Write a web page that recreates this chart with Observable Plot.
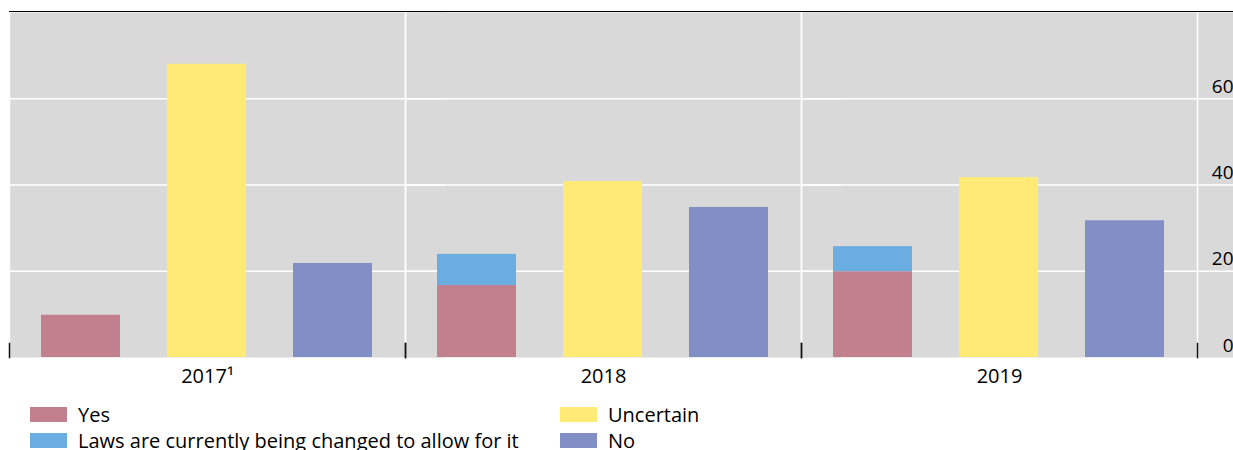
<!DOCTYPE html>
<html>
<head>
<meta charset="utf-8">
<script src="https://cdn.jsdelivr.net/npm/d3@7"></script>
<script src="https://cdn.jsdelivr.net/npm/@observablehq/plot@0.6"></script>
<style>
  body { margin: 0; background: #fff; font-family: "Open Sans", sans-serif; }
  #chart svg { display: block; overflow: hidden; }
  #legend {
    display: grid;
    grid-template-rows: 26px 26px;
    grid-auto-flow: column;
    grid-template-columns: 530px auto;
    padding: 6px 0 0 30px;
    font-size: 20px;
    color: #000;
  }
  .item { display: flex; align-items: center; white-space: nowrap; }
  .sw { width: 37px; height: 15px; margin-right: 11px; flex: none; }
</style>
</head>
<body>
<div id="chart"></div>
<div id="legend"></div>
<script>
// ---- data ----
const years = ["2017", "2018", "2019"];
const yearLabels = ["2017\u00B9", "2018", "2019"];
const series = ["Yes", "Laws are currently being changed to allow for it", "Uncertain", "No"];
const seriesSlot = ["Yes", "Yes", "Uncertain", "No"];
const slots = ["Yes", "Uncertain", "No"];
const colors = ["#C2808E", "#6AADE1", "#FFEA75", "#828FC6"];
const yesValues = [9.8, 16.7, 19.9];
const lawsValues = [0, 7.2, 5.8];
const uncertainValues = [68, 40.8, 41.7];
const noValues = [21.8, 34.8, 31.7];
const yTicks = [0, 20, 40, 60];

const valuesBySeries = [yesValues, lawsValues, uncertainValues, noValues];
const table = [];
years.forEach((yr, i) => {
  series.forEach((s, j) => {
    table.push({ year: yr, series: s, slot: seriesSlot[j], value: valuesBySeries[j][i] });
  });
});

const plot = Plot.plot({
  width: 1233,
  height: 395,
  marginLeft: 8,
  marginRight: 35,
  marginTop: 12,
  marginBottom: 38,
  style: { fontFamily: "'Open Sans', sans-serif", fontSize: "20px", color: "#000", background: "transparent" },
  fx: { domain: years, padding: 0, label: null },
  x: { domain: slots, paddingInner: 0.37, paddingOuter: 0.248, axis: null },
  y: { domain: [0, 80], axis: null },
  color: { domain: series, range: colors },
  marks: [
    Plot.frame({ fill: "#D9D9D9", insetRight: -40 }),
    Plot.ruleY(yTicks.slice(1), { stroke: "white", strokeWidth: 1.5, insetRight: -40 }),
    Plot.frame({ anchor: "left", stroke: "white", strokeWidth: 1.5 }),
    Plot.frame({ anchor: "right", stroke: "white", strokeWidth: 1.5 }),
    Plot.barY(table, { fx: "year", x: "slot", y: "value", fill: "series" }),
    Plot.frame({ anchor: "left", stroke: "#111", strokeWidth: 1.5, insetTop: 331 }),
    Plot.frame({ anchor: "right", stroke: "#111", strokeWidth: 1.5, insetTop: 331 }),
    Plot.frame({ anchor: "top", stroke: "#000", strokeWidth: 1.5, dy: -1.25, insetRight: -40, shapeRendering: "crispEdges" }),
    Plot.axisY(yTicks, { anchor: "right", tickSize: 0, tickPadding: 36, textAnchor: "end", dy: -12, fontSize: 19, label: null }),
    Plot.axisFx({ anchor: "bottom", tickSize: 0, tickPadding: 11, fontSize: 20, label: null,
      tickFormat: d => yearLabels[years.indexOf(d)] })
  ]
});
document.getElementById("chart").appendChild(plot);

// ---- legend ----
const legend = document.getElementById("legend");
series.forEach((s, j) => {
  const it = document.createElement("div");
  it.className = "item";
  const sw = document.createElement("span");
  sw.className = "sw";
  sw.style.background = colors[j];
  const tx = document.createElement("span");
  tx.textContent = s;
  it.appendChild(sw);
  it.appendChild(tx);
  legend.appendChild(it);
});
</script>
</body>
</html>
